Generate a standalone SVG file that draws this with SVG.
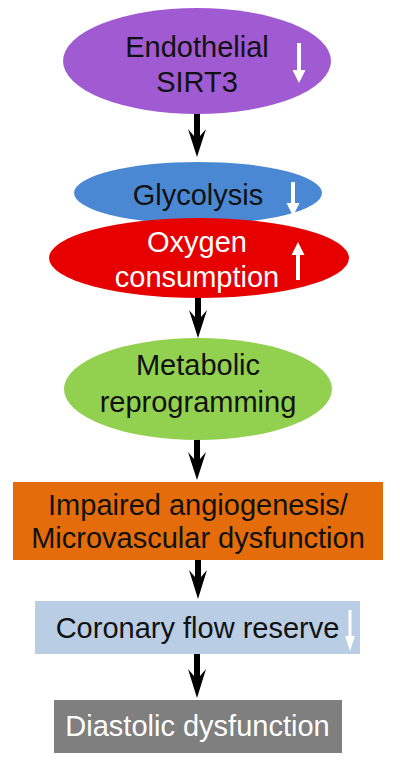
<svg xmlns="http://www.w3.org/2000/svg" width="400" height="765" viewBox="0 0 400 765">
<style>
text{font-family:"Liberation Sans",Arial,sans-serif;font-size:29px;text-anchor:middle}
.dk{fill:#111}
.wt{fill:#fff}
.ba{fill:#000}
.wa{fill:#fff}
</style>
<rect width="400" height="765" fill="#fff"/>
<g id="connectors">
<path class="ba" d="M194,113 H200 V136 L206,129 L197,157 L188,129 L194,136 Z"/>
<path class="ba" d="M195,298 H201 V317 L207,310 L198,338 L189,310 L195,317 Z"/>
<path class="ba" d="M194,440 H200 V459 L206,452 L197,480 L188,452 L194,459 Z"/>
<path class="ba" d="M195,560 H201 V577 L207,570 L198,599 L189,570 L195,577 Z"/>
<path class="ba" d="M194,654 H200 V676 L206,669 L197,698 L188,669 L194,676 Z"/>
</g>
<g id="sirt3">
<ellipse cx="197" cy="61" rx="134" ry="53" fill="#A05AD2"/>
<text class="dk" x="197" y="57">Endothelial</text>
<text class="dk" x="197" y="92">SIRT3</text>
<path class="wa" d="M297,43 H301 V70 H305.5 L299,83 L292.5,70 H297 Z"/>
</g>
<g id="glycolysis">
<ellipse cx="198" cy="193" rx="124" ry="31" fill="#4A88D4"/>
<text class="dk" x="198" y="205">Glycolysis</text>
<path class="wa" d="M291,182 H295 V203 H299.5 L293,216 L286.5,203 H291 Z"/>
</g>
<g id="oxygen">
<ellipse cx="199" cy="258" rx="150" ry="40" fill="#E60000"/>
<text class="wt" x="197" y="252">Oxygen</text>
<text class="wt" x="197" y="287">consumption</text>
<path class="wa" d="M296,280 H300 V255 H304.5 L298,242 L291.5,255 H296 Z"/>
</g>
<g id="metabolic">
<ellipse cx="198" cy="389" rx="134" ry="51" fill="#92D050"/>
<text class="dk" x="198" y="375">Metabolic</text>
<text class="dk" x="198" y="412">reprogramming</text>
</g>
<g id="angiogenesis">
<rect x="13" y="482" width="370" height="78" fill="#E46C0A"/>
<text class="dk" x="198" y="515">Impaired angiogenesis/</text>
<text class="dk" x="198" y="548">Microvascular dysfunction</text>
</g>
<g id="coronary">
<rect x="35" y="601" width="325" height="53" fill="#B9CDE5"/>
<text class="dk" x="197.5" y="638">Coronary flow reserve</text>
<path class="wa" d="M348.5,610 H351.5 V636 H355 L350,651 L345,636 H348.5 Z"/>
</g>
<g id="diastolic">
<rect x="54" y="700" width="288" height="53" fill="#7F7F7F"/>
<text class="wt" x="197.5" y="736">Diastolic dysfunction</text>
</g>
</svg>
